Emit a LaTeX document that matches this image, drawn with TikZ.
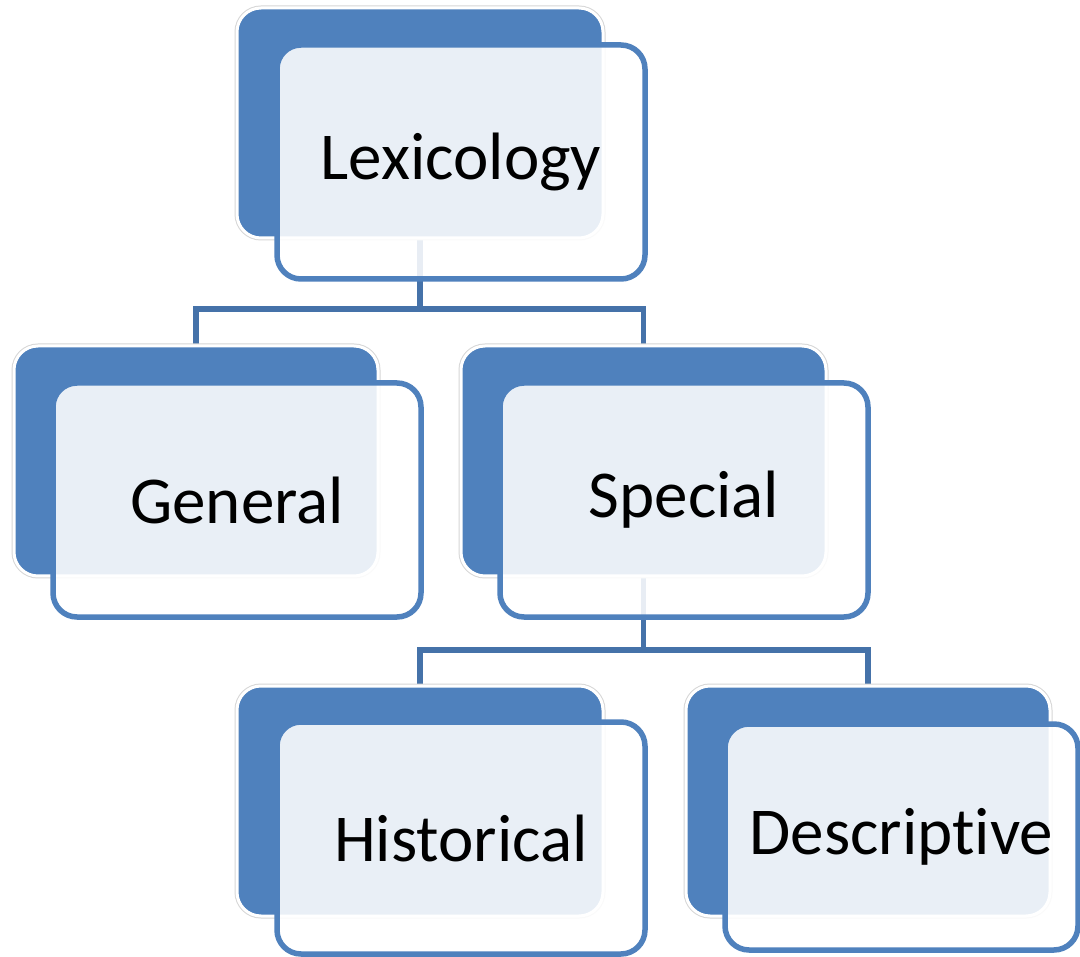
\documentclass[tikz,border=0pt]{standalone}
\usepackage{fontspec}
\setmainfont{Carlito}[Ligatures=NoCommon]
\begin{document}
\begin{tikzpicture}[x=1pt,y=-1pt,
  backbox/.style={rectangle, rounded corners=24pt, fill=boxblue, draw=white, line width=3pt,
    preaction={draw=black!16, line width=5pt}, inner sep=0pt,
    minimum width=#1, minimum height=230pt},
  frontbox/.style={rectangle, rounded corners=24pt, fill=white, fill opacity=0.88, text opacity=1,
    draw=boxblue, draw opacity=1, line width=5.5pt, inner sep=0pt, text=black,
    font=\fontsize{67}{80}\selectfont},
  conn/.style={draw=connblue, line width=5.5pt}
]
\definecolor{boxblue}{RGB}{79,129,189}
\definecolor{connblue}{RGB}{69,114,169}
\useasboundingbox (0,0) rectangle (1080,957);
\fill[white] (0,0) rectangle (1080,957);

% connectors
\coordinate (j1) at (420,309);
\coordinate (j2) at (643.5,650);
\draw[conn] (420,200) coordinate (s1) -- (j1);
\draw[conn] (643.5,540) coordinate (s2) -- (j2);
\draw[conn] (196,400) |- (j1) -| (643.5,400);
\draw[conn] (420,740) |- (j2) -| (868,740);

% back boxes
\node[backbox=366pt] (lexB) at (420,123) {};
\node[backbox=364pt] (genB) at (196,461) {};
\node[backbox=365pt] (speB) at (643.5,461) {};
\node[backbox=366pt] (hisB) at (420,801) {};
\node[backbox=364pt] (desB) at (868,801) {};

% front boxes
\node[frontbox, minimum width=368pt, minimum height=234pt] (lex) at (461,162) {Lexicology};
\node[frontbox, minimum width=368pt, minimum height=234pt] (gen) at (237,500) {General};
\node[frontbox, minimum width=368pt, minimum height=234pt] (spe) at (684,500) {Special};
\node[frontbox, minimum width=368pt, minimum height=232pt] (his) at (461,838) {Historical};
\node[frontbox, minimum width=353pt, minimum height=226pt] (des) at (901.5,837) {Descriptive};
\end{tikzpicture}
\end{document}
